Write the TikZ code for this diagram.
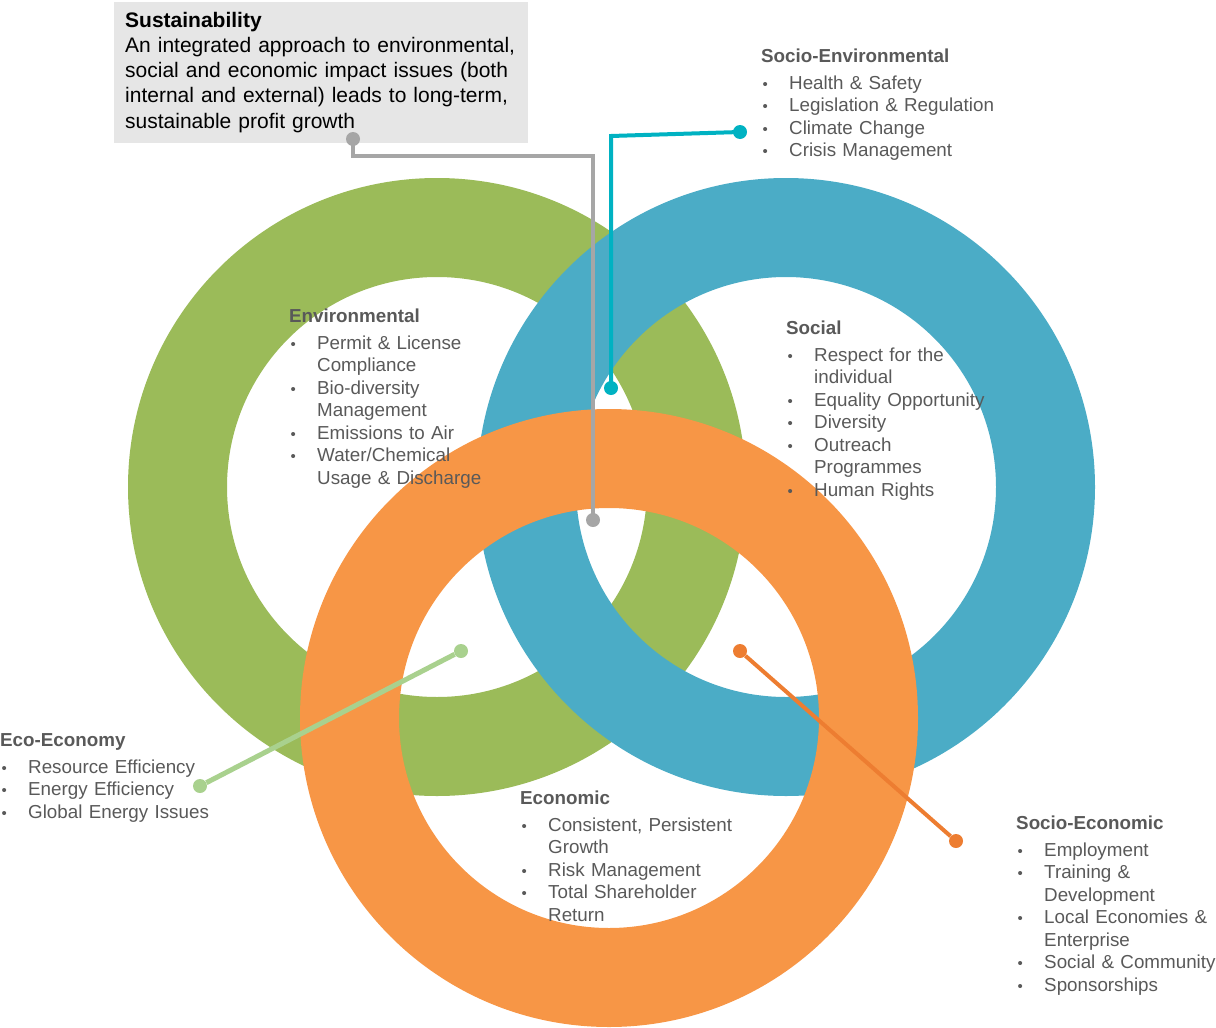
\documentclass[tikz,border=0pt]{standalone}
\usepackage{fontspec}
\setmainfont{Liberation Sans}

\definecolor{envgreen}{RGB}{155,187,89}
\definecolor{socblue}{RGB}{75,172,198}
\definecolor{ecoorange}{RGB}{247,150,70}
\definecolor{txtgray}{RGB}{89,89,89}
\definecolor{boxgray}{RGB}{230,230,230}
\definecolor{linegray}{RGB}{166,166,166}
\definecolor{lineteal}{RGB}{0,178,194}
\definecolor{linegreen}{RGB}{169,209,142}
\definecolor{lineorange}{RGB}{237,125,49}

\newcommand{\bul}{\makebox[28pt][l]{\hspace{1.5pt}\raisebox{0pt}{\fontsize{15}{15}\selectfont\textbullet}}}
\newcommand{\cnt}{\hspace*{28pt}}

\tikzset{
	listtext/.style={anchor=base west, inner sep=0pt, text width=260pt, align=left,
		text=txtgray, font=\fontsize{18.8}{22.5}\selectfont},
	dot/.style={circle, inner sep=0pt, minimum size=14pt},
	link/.style={line width=4pt}
}

\begin{document}
\begin{tikzpicture}[x=1pt,y=-1pt]
	\useasboundingbox (0,0) rectangle (1216,1028);
	% ring centres
	\coordinate (envc) at (437,487);
	\coordinate (socc) at (786,487);
	\coordinate (ecoc) at (609,718);
	\fill[envgreen, even odd rule] (envc) circle[radius=309pt] (envc) circle[radius=210pt];
	\fill[socblue, even odd rule] (socc) circle[radius=309pt] (socc) circle[radius=210pt];
	\fill[ecoorange, even odd rule] (ecoc) circle[radius=309pt] (ecoc) circle[radius=210pt];

	% sustainability box
	\fill[boxgray] (114,2) rectangle (528,143);
	\node[listtext, text=black, text width=400pt, font=\fontsize{21}{25.3}\selectfont] (sus) at (125,27)
		{\textbf{Sustainability}\\
		An integrated approach to environmental,\\
		social and economic impact issues (both\\
		internal and external) leads to long-term,\\
		sustainable profit growth};

	% lists
	\node[listtext] (socenv) at (761,62)
		{\textbf{Socio-Environmental}\\[4.5pt]
		\bul Health \& Safety\\
		\bul Legislation \& Regulation\\
		\bul Climate Change\\
		\bul Crisis Management};
	\node[listtext] (env) at (289,322)
		{\textbf{Environmental}\\[4.5pt]
		\bul Permit \& License\\ \cnt Compliance\\
		\bul Bio-diversity\\ \cnt Management\\
		\bul Emissions to Air\\
		\bul Water/Chemical\\ \cnt Usage \& Discharge};
	\node[listtext] (soc) at (786,334)
		{\textbf{Social}\\[4.5pt]
		\bul Respect for the\\ \cnt individual\\
		\bul Equality Opportunity\\
		\bul Diversity\\
		\bul Outreach\\ \cnt Programmes\\
		\bul Human Rights};
	\node[listtext] (ecoeco) at (0,746)
		{\textbf{Eco-Economy}\\[4.5pt]
		\bul Resource Efficiency\\
		\bul Energy Efficiency\\
		\bul Global Energy Issues};
	\node[listtext] (eco) at (520,804)
		{\textbf{Economic}\\[4.5pt]
		\bul Consistent, Persistent\\ \cnt Growth\\
		\bul Risk Management\\
		\bul Total Shareholder\\ \cnt Return};
	\node[listtext] (soceco) at (1016,829)
		{\textbf{Socio-Economic}\\[4.5pt]
		\bul Employment\\
		\bul Training \&\\ \cnt Development\\
		\bul Local Economies \&\\ \cnt Enterprise\\
		\bul Social \& Community\\
		\bul Sponsorships};

	% connectors
	\node[dot, fill=linegray] (susdot) at (353,139) {};
	\node[dot, fill=linegray] (coredot) at (593,520) {};
	\draw[link, linegray] (susdot.center) -- (353,156) -| (coredot.center);

	\node[dot, fill=lineteal] (sedot) at (740,132) {};
	\node[dot, fill=lineteal] (sedot2) at (611,388) {};
	\coordinate (tealbend) at (611,136);
	\draw[link, lineteal] (sedot.center) -- (tealbend) -- (sedot2.center);

	\node[dot, fill=linegreen] (eedot) at (461,651) {};
	\node[dot, fill=linegreen] (eedot2) at (200,786) {};
	\draw[link, linegreen, line width=5pt] (eedot) -- (eedot2);

	\node[dot, fill=lineorange] (sodot) at (740,651) {};
	\node[dot, fill=lineorange] (sodot2) at (956,841) {};
	\draw[link, lineorange] (sodot) -- (sodot2);
\end{tikzpicture}
\end{document}
